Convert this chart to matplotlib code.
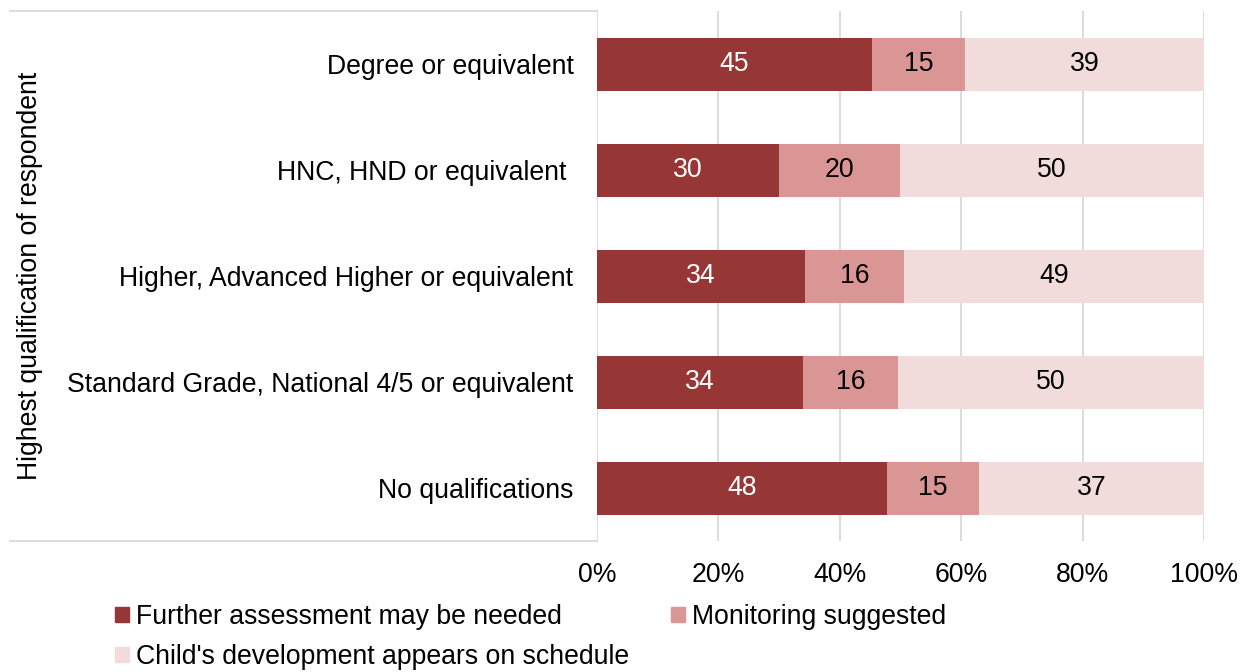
import matplotlib
matplotlib.use("Agg")
import matplotlib.pyplot as plt
from matplotlib.patches import Patch
import numpy as np

plt.rcParams["font.family"] = ["Liberation Sans", "DejaVu Sans"]

categories = ["Degree or equivalent", "HNC, HND or equivalent ",
              "Higher, Advanced Higher or equivalent",
              "Standard Grade, National 4/5 or equivalent", "No qualifications"]
further = [45.3, 30.0, 34.3, 34.0, 47.8]
monitoring = [15.3, 19.9, 16.3, 15.6, 15.1]
on_schedule = [39.4, 50.1, 49.4, 50.4, 37.1]
series_names = ["Further assessment may be needed", "Monitoring suggested",
                "Child's development appears on schedule"]
xticks = [0, 20, 40, 60, 80, 100]

DARK, MID, LIGHT, GRID = "#963735", "#DA9694", "#F2DCDB", "#D9D9D9"
FS = 19.2

fig = plt.figure(figsize=(12.47, 6.72), dpi=100)
W, H = 1247, 672
ax = fig.add_axes([597 / W, (H - 541) / H, 607 / W, 530 / H])

y = np.arange(len(categories))[::-1]
left = np.zeros(len(categories))
for vals, col, txt in [(further, DARK, "white"), (monitoring, MID, "black"),
                       (on_schedule, LIGHT, "black")]:
    vals = np.array(vals)
    ax.barh(y, vals, left=left, height=0.5, color=col, zorder=3)
    for yi, l, v in zip(y, left, vals):
        ax.text(l + v / 2, yi, f"{round(v):.0f}", ha="center", va="center",
                fontsize=FS, color=txt, zorder=4)
    left = left + vals

ax.set_xlim(0, 100)
ax.set_ylim(-0.5, len(categories) - 0.5)
ax.set_xticks(xticks)
ax.set_xticklabels([f"{t}%" for t in xticks], fontsize=FS)
ax.set_yticks(y)
ax.set_yticklabels(categories, fontsize=FS)
ax.tick_params(axis="both", length=0)
ax.tick_params(axis="x", pad=15)
ax.tick_params(axis="y", pad=17)
ax.grid(axis="x", color=GRID, lw=1.3, zorder=0)
ax.set_axisbelow(True)
for sp in ax.spines.values():
    sp.set_visible(False)

# box lines extending under the category labels
x_left = (10 - 597) / 607
for yy in (0, 1):
    ax.plot([x_left, 0], [yy, yy], transform=ax.transAxes, color=GRID,
            lw=1.3, clip_on=False, zorder=1)

fig.text(30 / W, 1 - 276 / H, "Highest qualification of respondent",
         rotation=90, ha="center", va="center", fontsize=FS)

handles = [Patch(color=DARK), Patch(color=LIGHT), Patch(color=MID)]
labels = [series_names[0], series_names[2], series_names[1]]
fig.legend(handles, labels, loc="upper left", bbox_to_anchor=(115 / W, 1 - 604 / H),
           ncol=2, frameon=False, fontsize=FS, handlelength=0.53, handleheight=0.53,
           handletextpad=0.24, columnspacing=1.6, labelspacing=0.52, borderpad=0,
           borderaxespad=0)

fig.savefig("out.png", dpi=100, facecolor="white")
